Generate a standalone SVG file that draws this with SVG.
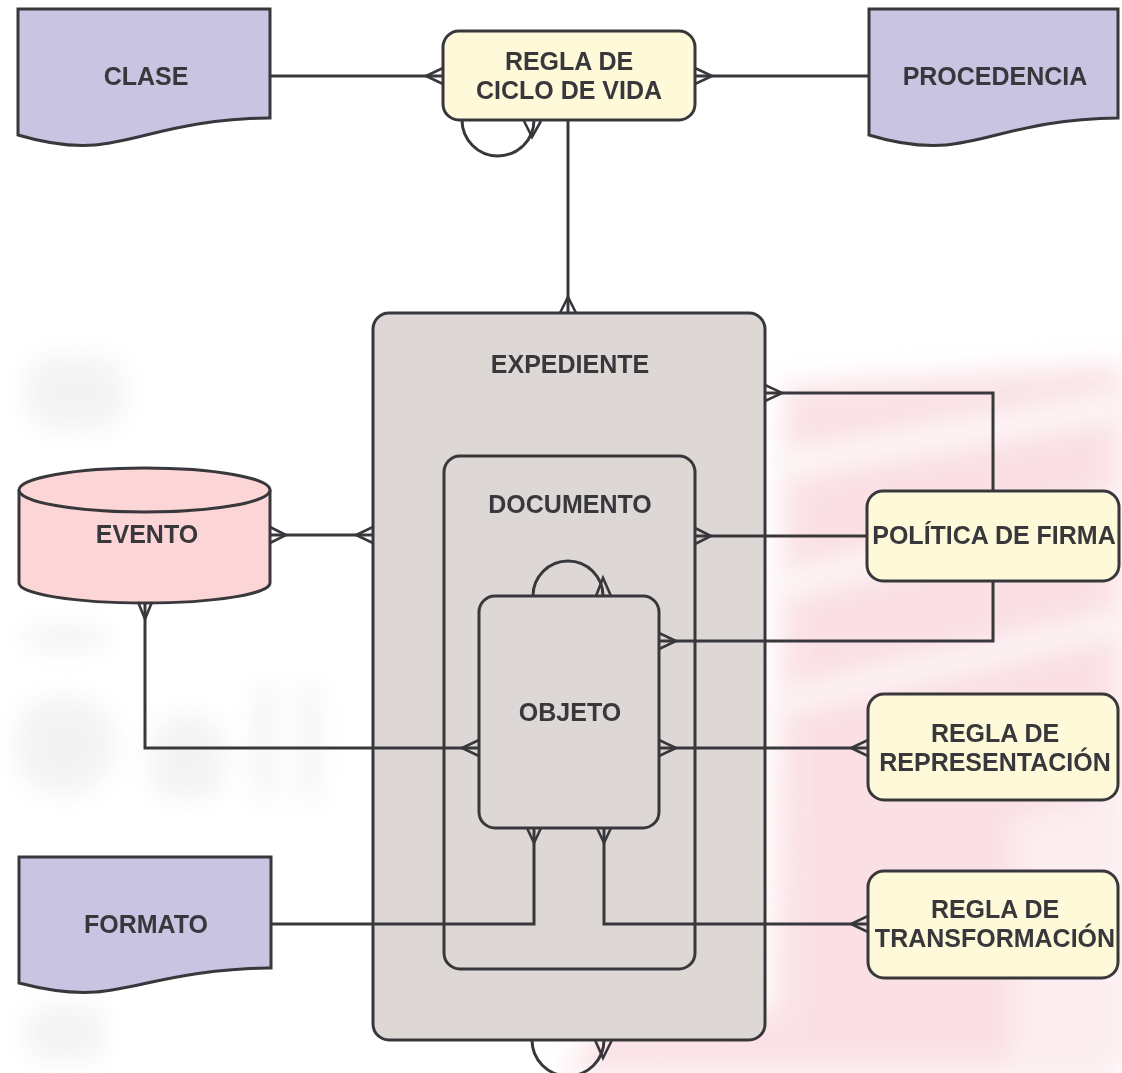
<svg xmlns="http://www.w3.org/2000/svg" width="1122" height="1073" viewBox="0 0 1122 1073">
<defs>
<filter id="blur" x="-20%" y="-20%" width="140%" height="140%"><feGaussianBlur stdDeviation="14"/></filter>
<filter id="blur2" x="-20%" y="-20%" width="140%" height="140%"><feGaussianBlur stdDeviation="12"/></filter>
</defs>
<style>
.n{stroke:#38383c;stroke-width:3}
.doc{fill:#c8c4e1}
.rule{fill:#fef9d8}
.box{fill:#ddd8d5}
.ev{fill:#fcd5d6}
.t{font-family:"Liberation Sans",Arial,Helvetica,sans-serif;font-weight:bold;font-size:25px;fill:#38383c;text-anchor:middle}
.c{fill:none;stroke:#38383c;stroke-width:3}
.cf{fill:none;stroke:#38383c;stroke-width:2.6}
</style>
<rect width="1122" height="1073" fill="#ffffff"/>
<g id="watermark">
<g filter="url(#blur)" opacity="0.6">
<polygon points="785,385 1122,365 1122,1073 560,1073 600,1030 775,1010" fill="#f7cdd4"/>
</g>
<g filter="url(#blur2)" opacity="0.7">
<polygon points="780,450 1122,390 1122,420 780,480" fill="#ffffff"/>
<polygon points="780,570 1122,490 1122,515 780,600" fill="#ffffff"/>
<polygon points="780,690 1122,610 1122,635 780,715" fill="#ffffff"/>
<polygon points="1010,820 1122,790 1122,1073 1010,1073" fill="#ffffff" opacity="0.6"/>
</g>
<g filter="url(#blur2)" fill="#f1f1f1" opacity="0.8">
<rect x="25" y="355" width="100" height="75" rx="30"/>
<rect x="15" y="695" width="100" height="100" rx="45"/>
<rect x="150" y="715" width="75" height="85" rx="30"/>
<rect x="255" y="685" width="20" height="115"/>
<rect x="300" y="685" width="20" height="115"/>
<rect x="25" y="625" width="80" height="25" rx="10"/>
<rect x="25" y="1005" width="80" height="55" rx="20"/>
</g>
</g>
<g id="expediente">
<rect class="n box" x="373" y="313" width="392" height="727" rx="16"/>
<text class="t" x="570" y="373">EXPEDIENTE</text>
</g>
<g id="documento">
<rect class="n box" x="444" y="456" width="251" height="513" rx="16"/>
<text class="t" x="570" y="513">DOCUMENTO</text>
</g>
<g id="objeto">
<rect class="n box" x="479" y="596" width="180" height="232" rx="16"/>
<text class="t" x="570" y="721">OBJETO</text>
</g>
<g id="clase">
<path class="n doc" d="M18,9 H270 V118 C180,119 140,141 95,145 C70,147 45,143 18,135 Z"/>
<text class="t" x="146" y="85">CLASE</text>
</g>
<g id="procedencia">
<path class="n doc" d="M869,9 H1118 V118 C1030,119 990,141 946,145 C920,147 895,143 869,135 Z"/>
<text class="t" x="995" y="85">PROCEDENCIA</text>
</g>
<g id="formato">
<path class="n doc" d="M19,857 H271 V968 C181,969 141,988 96,992 C71,994 46,990 19,983 Z"/>
<text class="t" x="146" y="933">FORMATO</text>
</g>
<g id="regla-ciclo">
<rect class="n rule" x="443" y="31" width="252" height="89" rx="16"/>
<text class="t" x="569" y="70">REGLA DE</text>
<text class="t" x="569" y="99">CICLO DE VIDA</text>
</g>
<g id="politica">
<rect class="n rule" x="867" y="491" width="252" height="90" rx="16"/>
<text class="t" x="994" y="544">POLÍTICA DE FIRMA</text>
</g>
<g id="regla-representacion">
<rect class="n rule" x="868" y="694" width="250" height="106" rx="16"/>
<text class="t" x="995" y="742">REGLA DE</text>
<text class="t" x="995" y="771">REPRESENTACIÓN</text>
</g>
<g id="regla-transformacion">
<rect class="n rule" x="868" y="871" width="250" height="107" rx="16"/>
<text class="t" x="995" y="918">REGLA DE</text>
<text class="t" x="995" y="947">TRANSFORMACIÓN</text>
</g>
<g id="evento">
<path class="n ev" d="M19,490 V583 A125.5,20 0 0 0 270,583 V490"/>
<ellipse class="n ev" cx="144.5" cy="490" rx="125.5" ry="22"/>
<text class="t" x="147" y="543">EVENTO</text>
</g>
<g id="connectors">
<path class="c" d="M270,76 H443"/>
<path class="cf" d="M443,68 L426,76 L443,84"/>
<path class="c" d="M695,76 H869"/>
<path class="cf" d="M695,68 L712,76 L695,84"/>
<path class="c" d="M462,120 A36,36 0 0 0 534,120"/>
<path class="cf" d="M524,121 L532,137 L541,121"/>
<path class="c" d="M568,120 V313"/>
<path class="cf" d="M560,313 L568,297 L576,313"/>
<path class="c" d="M765,393 H993 V491"/>
<path class="cf" d="M765,385 L782,393 L765,401"/>
<path class="c" d="M695,536 H867"/>
<path class="cf" d="M695,528 L711,536 L695,544"/>
<path class="c" d="M659,641 H993 V581"/>
<path class="cf" d="M659,633 L676,641 L659,649"/>
<path class="c" d="M533,596 A35,35 0 0 1 603,596"/>
<path class="cf" d="M596,596 L603,578 L611,596"/>
<path class="c" d="M270,535 H373"/>
<path class="cf" d="M270,527 L286,535 L270,543"/>
<path class="cf" d="M373,527 L356,535 L373,543"/>
<path class="c" d="M145,603 V748 H479"/>
<path class="cf" d="M138,602 L145,619 L152,602"/>
<path class="cf" d="M479,740 L462,748 L479,756"/>
<path class="c" d="M659,748 H868"/>
<path class="cf" d="M659,740 L676,748 L659,756"/>
<path class="cf" d="M868,740 L851,748 L868,756"/>
<path class="c" d="M271,924 H534 V828"/>
<path class="cf" d="M527,828 L534,843 L541,828"/>
<path class="c" d="M604,828 V924 H868"/>
<path class="cf" d="M597,828 L604,843 L611,828"/>
<path class="cf" d="M868,916 L851,924 L868,932"/>
<path class="c" d="M532,1040 A36,36 0 0 0 604,1040"/>
<path class="cf" d="M595,1040 L603,1058 L612,1040"/>
</g>
</svg>
